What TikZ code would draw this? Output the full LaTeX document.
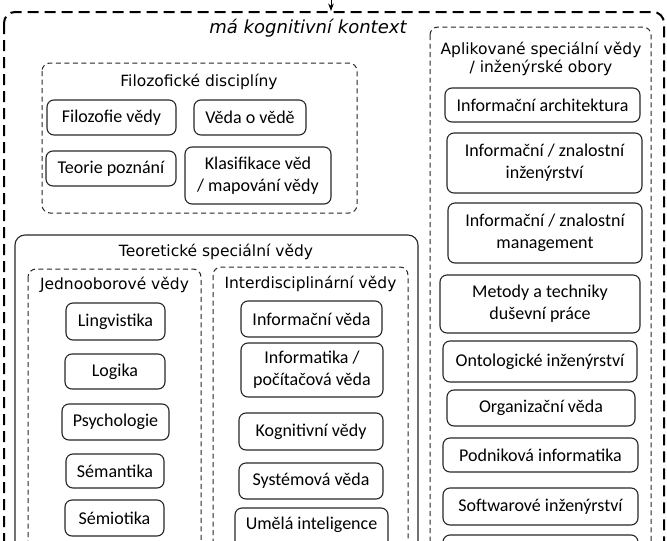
\documentclass[tikz,border=0pt]{standalone}
\usepackage{fontspec}
\setmainfont{Carlito}
\newfontfamily\vfont{DejaVu Sans}
\usetikzlibrary{arrows.meta,positioning}

\begin{document}
\begin{tikzpicture}[x=1pt,y=-1pt,>=Stealth,
  item/.style={draw=black!85,line width=1.1pt,rounded corners=7pt,align=center,inner sep=0pt,
    font=\fontsize{18}{22}\selectfont},
  grp/.style={draw=black!85,line width=1pt,rounded corners=8pt,dash pattern=on 5pt off 3.5pt},
  outerframe/.style={draw=black,line width=2pt,rounded corners=11pt,dash pattern=on 11pt off 6pt},
  solidframe/.style={draw=black!85,line width=1.1pt,rounded corners=10pt},
  grptitle/.style={align=center,font=\vfont\fontsize{15.5}{18}\selectfont}]
 \useasboundingbox (0,0) rectangle (667,541);
 \clip (0,0) rectangle (667,541);
 % frames
 \draw[outerframe] (4,12) rectangle (664,640);
 \draw[grp] (42,63) rectangle (357,213);
 \draw[solidframe] (15,235) rectangle (418,640);
 \draw[grp] (28,269) rectangle (201,640);
 \draw[grp] (213,267) rectangle (408,640);
 \draw[grp] (430,27) rectangle (651,640);
 \coordinate (above) at (331,-30);
 \coordinate (topmid) at (331,11);
 \draw[->,line width=1pt] (above) -- (topmid);
 % titles
 \node[font=\vfont\itshape\fontsize{18}{22}\selectfont] (kontext) at (308,28) {má kognitivní kontext};
 \node[grptitle] (tfil) at (199,82) {Filozofické disciplíny};
 \node[grptitle] (tteo) at (216,252) {Teoretické speciální vědy};
 \node[grptitle] (tjed) at (114.5,285) {Jednooborové vědy};
 \node[grptitle] (tint) at (310.5,284) {Interdisciplinární vědy};
 \node[grptitle] (tapl) at (541,58.5) {Aplikované speciální vědy\\/ inženýrské obory};
 % boxes
 \foreach \n/\cx/\cy/\w/\h/\t in {
   filv/111.5/117.5/129/35/{Filozofie vědy},
   vov/250/117.5/112/35/{Věda o vědě},
   tpoz/111/168.5/130/35/{Teorie poznání},
   klas/258/175.5/146/57/{Klasifikace věd\\/ mapování vědy},
   ling/115.5/321.5/99/37/{Lingvistika},
   logi/115/371.5/100/35/{Logika},
   psych/115.5/422/107/36/{Psychologie},
   sem/115/471/98/34/{Sémantika},
   semio/114.5/518/99/36/{Sémiotika},
   infv/311.5/319/141/36/{Informační věda},
   infk/312/370/142/54/{Informatika /\\počítačová věda},
   kogn/311/431.5/144/37/{Kognitivní vědy},
   sysv/311/481/144/36/{Systémová věda},
   iarch/542.5/105/195/34/{Informační architektura},
   zinz/544.5/163/195/60/{Informační / znalostní\\inženýrství},
   zman/545/233/194/60/{Informační / znalostní\\management},
   metod/540/304/200/58/{Metody a techniky\\duševní práce},
   onto/540/361.5/194/41/{Ontologické inženýrství},
   orgv/541/408/188/36/{Organizační věda},
   podn/540.5/455/195/34/{Podniková informatika},
   soft/540.5/506.5/195/37/{Softwarové inženýrství}}{
   \node[item,minimum width=\w pt,minimum height=\h pt] (\n) at (\cx,\cy) {\t};
 }
 % boxes cut by the lower edge
 \node[item,minimum width=195pt,minimum height=45pt] (dalsi) at (540.5,557.5) {};
 \node[item,minimum width=153pt,minimum height=72pt] (umi) at (311.5,544) {};
 \node[font=\fontsize{18}{22}\selectfont] (umit) at (311.5,525) {Umělá inteligence};
\end{tikzpicture}
\end{document}
